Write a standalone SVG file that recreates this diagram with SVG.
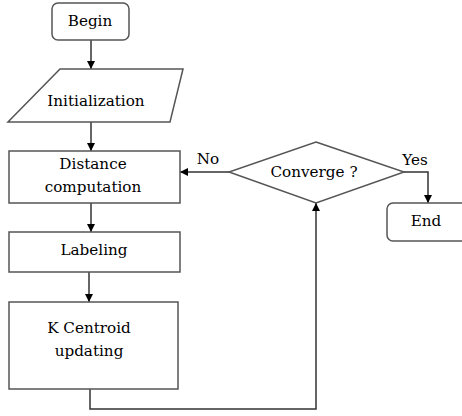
<svg xmlns="http://www.w3.org/2000/svg" width="462" height="416" viewBox="0 0 462 416">
<style>
.s{fill:#fff;stroke:#555;stroke-width:1.5}
.t{font-family:"DejaVu Serif","Liberation Serif",serif;font-size:15.2px;fill:#000;text-anchor:middle;dominant-baseline:central}
.c{fill:none;stroke:#333;stroke-width:1.5}
</style>
<defs>
<marker id="a" viewBox="0 0 10 10" refX="10" refY="5" markerWidth="8" markerHeight="9" markerUnits="userSpaceOnUse" orient="auto"><path d="M0,0L10,5L0,10z" fill="#000"/></marker>
</defs>
<g id="connectors">
<path class="c" d="M91,40V69" marker-end="url(#a)"/>
<path class="c" d="M91,122V151" marker-end="url(#a)"/>
<path class="c" d="M91,203V232" marker-end="url(#a)"/>
<path class="c" d="M89,272V302" marker-end="url(#a)"/>
<path class="c" d="M90,389V409H316V203" marker-end="url(#a)"/>
<path class="c" d="M229,172H180" marker-end="url(#a)"/>
<path class="c" d="M404,172H428V203" marker-end="url(#a)"/>
<text class="t" x="208" y="159">No</text>
<text class="t" x="415" y="160">Yes</text>
</g>
<g id="begin"><rect class="s" x="52" y="3" width="77" height="37" rx="6"/><text class="t" x="90" y="21">Begin</text></g>
<g id="init"><path class="s" d="M60,69H183L170,122H8Z"/><text class="t" x="96" y="101">Initialization</text></g>
<g id="distance"><rect class="s" x="9" y="151" width="171" height="52"/><text class="t" x="93" y="164">Distance</text><text class="t" x="93" y="187">computation</text></g>
<g id="labeling"><rect class="s" x="9" y="232" width="171" height="40"/><text class="t" x="94" y="250">Labeling</text></g>
<g id="kcentroid"><rect class="s" x="9" y="302" width="169" height="87"/><text class="t" x="89" y="328">K Centroid</text><text class="t" x="89" y="351">updating</text></g>
<g id="converge"><path class="s" d="M316,142L404,172L316,203L229,172Z"/><text class="t" x="314" y="172">Converge ?</text></g>
<g id="end"><rect class="s" x="387" y="203" width="80" height="38" rx="6"/><text class="t" x="426" y="221">End</text></g>
</svg>
